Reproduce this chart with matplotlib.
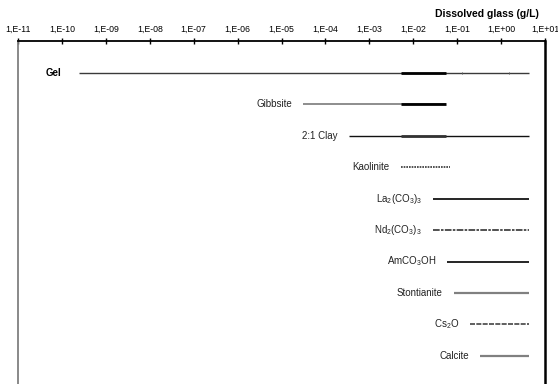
import matplotlib
matplotlib.use("Agg")
import matplotlib.pyplot as plt

plt.rcParams['font.family'] = ['Liberation Sans', 'DejaVu Sans']
plt.rcParams['mathtext.fontset'] = 'custom'
plt.rcParams['mathtext.rm'] = 'Liberation Sans'
plt.rcParams['mathtext.it'] = 'Liberation Sans:italic'
plt.rcParams['mathtext.bf'] = 'Liberation Sans:bold'

# phases, top to bottom, with the dissolved glass range (g/L) where each forms
phases = ['Gel', 'Gibbsite', '2:1 Clay', 'Kaolinite',
          r'$\mathregular{La_2(CO_3)_3}$', r'$\mathregular{Nd_2(CO_3)_3}$',
          r'$\mathregular{AmCO_3OH}$', 'Stontianite',
          r'$\mathregular{Cs_2O}$', 'Calcite']
start = [2.4e-10, 3.1e-5, 3.4e-4, 5.2e-3, 0.028, 0.028, 0.059, 0.083, 0.20, 0.33]
end = [4.3, 0.055, 4.3, 0.067, 4.3, 4.3, 4.3, 4.3, 4.3, 4.3]

# heavier stretch for Gel, Gibbsite and 2:1 Clay
thick_rows = [0, 1, 2]
thick_start = [5.2e-3, 5.2e-3, 5.2e-3]
thick_end = [0.055, 0.055, 0.055]

gel_marks = [0.13, 1.5]

tick_values = [10.0 ** e for e in range(-11, 2)]
tick_labels = ['1,E-11', '1,E-10', '1,E-09', '1,E-08', '1,E-07', '1,E-06',
               '1,E-05', '1,E-04', '1,E-03', '1,E-02', '1,E-01', '1,E+00', '1,E+01']

colors = ['#3a3a3a', '#7a7a7a', '#111111', '#333333', '#000000',
          '#333333', '#000000', '#808080', '#444444', '#808080']
styles = ['-', '-', '-', (0, (1, 0.6)), '-', (0, (4, 0.8, 1.5, 0.8)),
          '-', '-', (0, (3, 0.8)), '-']
widths = [1.0, 1.2, 1.0, 1.2, 1.2, 1.2, 1.2, 1.6, 1.2, 1.6]
thick_colors = ['#000000', '#000000', '#333333']

fig = plt.figure(figsize=(5.58, 3.84), dpi=100)
ax = fig.add_axes([18 / 558, 0.0, (545 - 18) / 558, 1 - 41 / 384])

for i, name in enumerate(phases):
    ax.plot([start[i], end[i]], [i, i], color=colors[i], linestyle=styles[i],
            linewidth=widths[i], solid_capstyle='butt')
    if i == 0:
        # Gel label sits at the left edge of the panel
        ax.annotate(name, xy=(46, i), xycoords=('figure pixels', 'data'),
                    fontsize=7, fontweight='bold', ha='left', va='center')
    else:
        ax.annotate(name, (start[i], i), xytext=(-8, 0),
                    textcoords='offset points', fontsize=7,
                    ha='right', va='center', color='#222222')

for k, row in enumerate(thick_rows):
    ax.plot([thick_start[k], thick_end[k]], [row, row], color=thick_colors[k],
            linewidth=2.0, solid_capstyle='butt')

ax.plot(gel_marks, [0] * len(gel_marks), linestyle='none', marker='|',
        markersize=2.0, color='#555555', markeredgewidth=0.7)

ax.set_xscale('log')
ax.set_xlim(1e-11, 10)
ax.set_ylim(9.9, -1.02)

ax.xaxis.tick_top()
ax.set_xticks(tick_values)
ax.set_xticklabels(tick_labels, fontsize=6.3)
ax.xaxis.set_minor_locator(matplotlib.ticker.NullLocator())
ax.tick_params(axis='x', direction='inout', length=4, width=1.0, pad=3)
ax.set_yticks([])

ax.spines['bottom'].set_visible(False)
ax.spines['top'].set_linewidth(1.3)
ax.spines['left'].set_color('#808080')
ax.spines['left'].set_linewidth(1.3)
ax.spines['right'].set_linewidth(1.8)

fig.text(539 / 558, 1 - 14 / 384, 'Dissolved glass (g/L)', fontsize=7.5,
         fontweight='bold', ha='right', va='center')

fig.savefig('out.png', dpi=100)
